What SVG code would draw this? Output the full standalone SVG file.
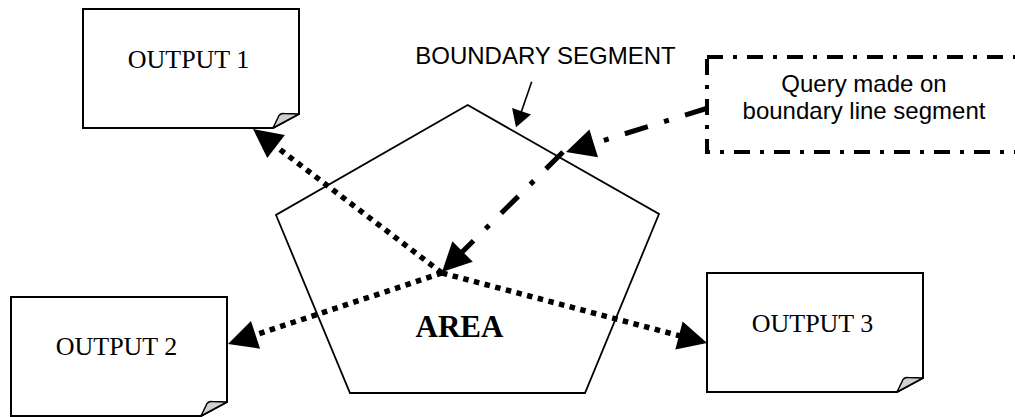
<svg xmlns="http://www.w3.org/2000/svg" xmlns:xlink="http://www.w3.org/1999/xlink" width="1015" height="417" viewBox="0 0 1015 417">
<style>
.doc{fill:#fff;stroke:#000;stroke-width:2;stroke-linejoin:miter}
.fold{fill:#d0d0d0;stroke:#000;stroke-width:1.5;stroke-linejoin:round}
.serif{font-family:"Liberation Serif","Times New Roman",serif;fill:#000}
.sans{font-family:"Liberation Sans",Arial,sans-serif;fill:#000}
.dotted{fill:none;stroke:#000;stroke-width:5.5;stroke-dasharray:5.5 5.5}
.dashdot{fill:none;stroke:#000;stroke-width:5;stroke-dasharray:24 17 5 17}
.thin{fill:none;stroke:#000;stroke-width:1.6}
</style>
<defs>
<g id="docShape">
<path class="doc" d="M0,0 H216 V105 L190,119 H0 Z"/>
<path class="fold" d="M190,119 L196,106.5 Q198,104 201,104.5 L216,105 Z"/>
</g>
<marker id="bigHead" markerUnits="userSpaceOnUse" markerWidth="30" markerHeight="29" refX="9" refY="14.5" orient="auto" overflow="visible">
<path d="M0,0 L29,14.5 L0,29 Z" fill="#000"/>
</marker>
<marker id="smallHead" markerUnits="userSpaceOnUse" markerWidth="18" markerHeight="20" refX="5" refY="10" orient="auto" overflow="visible">
<path d="M0,0 L17,10 L0,20 Z" fill="#000"/>
</marker>
</defs>
<rect width="1015" height="417" fill="#fff"/>

<g id="area">
<polygon points="467.7,105 659,214 585,393 350,393 276,215" fill="#fff" stroke="#000" stroke-width="1.8" stroke-linejoin="miter"/>
<text class="serif" x="459.5" y="337" font-size="31" font-weight="bold" text-anchor="middle">AREA</text>
</g>

<g id="output1" transform="translate(83,9)">
<use xlink:href="#docShape"/>
<text class="serif" x="105.5" y="59" font-size="26" text-anchor="middle">OUTPUT 1</text>
</g>

<g id="output2" transform="translate(11,297)">
<use xlink:href="#docShape"/>
<text class="serif" x="105.5" y="58" font-size="26" text-anchor="middle">OUTPUT 2</text>
</g>

<g id="output3" transform="translate(707,273)">
<use xlink:href="#docShape"/>
<text class="serif" x="105.5" y="59" font-size="26" text-anchor="middle">OUTPUT 3</text>
</g>

<g id="query">
<rect x="707" y="57" width="314" height="95" fill="none" stroke="#000" stroke-width="4" stroke-dasharray="16 10 4 10"/>
<text class="sans" x="864" y="92" font-size="24" text-anchor="middle">Query made on</text>
<text class="sans" x="864" y="119" font-size="24" text-anchor="middle">boundary line segment</text>
</g>

<g id="boundaryLabel">
<text class="sans" x="545.5" y="64" font-size="24" text-anchor="middle">BOUNDARY SEGMENT</text>
</g>

<g id="connectors">
<line class="thin" x1="531.7" y1="81.7" x2="519.9" y2="116" marker-end="url(#smallHead)"/>
<line class="dashdot" x1="708" y1="108" x2="585.1" y2="146.1" marker-end="url(#bigHead)"/>
<line class="dashdot" x1="563" y1="152" x2="456.2" y2="257.9" marker-end="url(#bigHead)"/>
<line class="dotted" x1="442" y1="273" x2="268.9" y2="141.1" marker-end="url(#bigHead)"/>
<line class="dotted" x1="442" y1="273" x2="247" y2="337.7" marker-end="url(#bigHead)"/>
<line class="dotted" x1="442" y1="273" x2="687.7" y2="337.9" marker-end="url(#bigHead)"/>
</g>
</svg>
